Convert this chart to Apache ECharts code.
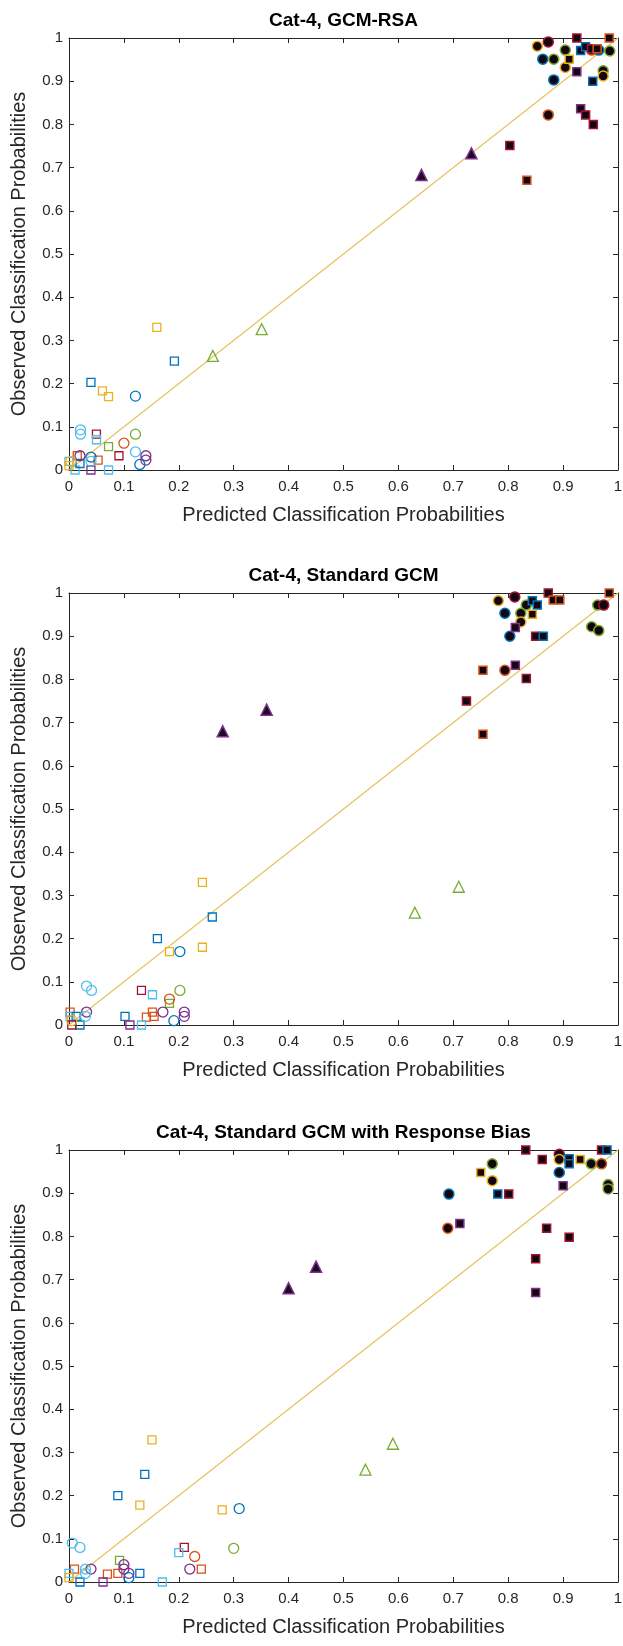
<!DOCTYPE html>
<html>
<head>
<meta charset="utf-8">
<script src="https://cdn.jsdelivr.net/npm/echarts@6/dist/echarts.min.js"></script>
<style>
  html, body { margin: 0; padding: 0; background: #fff; }
  #chart { width: 623px; height: 1646px; }
</style>
</head>
<body>
<div id="chart"></div>
<script>
// points are [predicted, observed, stimulus colour key]
// --- Cat-4, GCM-RSA
const rsaFilledCircles = [
  [0.853, 0.981, 'y'], [0.873, 0.991, 'r'], [0.904, 0.972, 'g'], [0.863, 0.951, 'b'],
  [0.883, 0.951, 'g'], [0.904, 0.932, 'y'], [0.883, 0.903, 'b'], [0.952, 0.972, 'o'],
  [0.965, 0.972, 'b'], [0.985, 0.970, 'g'], [0.973, 0.924, 'g'], [0.973, 0.912, 'y'],
  [0.873, 0.822, 'o']
];
const rsaFilledSquares = [
  [0.925, 1.0, 'r'], [0.984, 1.0, 'o'], [0.911, 0.951, 'y'], [0.925, 0.922, 'p'],
  [0.932, 0.971, 'b'], [0.941, 0.980, 'b'], [0.952, 0.975, 'r'], [0.962, 0.975, 'o'],
  [0.954, 0.900, 'b'], [0.932, 0.836, 'p'], [0.941, 0.822, 'r'], [0.955, 0.800, 'r'],
  [0.803, 0.751, 'r'], [0.834, 0.671, 'o']
];
const rsaFilledTriangles = [[0.642, 0.683, 'p'], [0.733, 0.733, 'p']];
const rsaOpenTriangles = [[0.262, 0.264, 'g'], [0.351, 0.326, 'g']];
const rsaOpenSquares = [
  [0.160, 0.330, 'y'], [0.192, 0.252, 'b'], [0.040, 0.203, 'b'], [0.061, 0.183, 'y'],
  [0.072, 0.170, 'y'], [0.050, 0.083, 'r'], [0.050, 0.070, 'c'], [0.072, 0.054, 'g'],
  [0.091, 0.033, 'r'], [0.015, 0.033, 'o'], [0.053, 0.023, 'o'], [0.000, 0.020, 'c'],
  [0.011, 0.000, 'c'], [0.072, 0.000, 'c'], [0.040, 0.000, 'p'], [0.000, 0.010, 'y'],
  [0.020, 0.015, 'b']
];
const rsaOpenCircles = [
  [0.121, 0.171, 'b'], [0.021, 0.093, 'c'], [0.021, 0.083, 'c'], [0.100, 0.062, 'o'],
  [0.121, 0.083, 'g'], [0.121, 0.042, 'c'], [0.140, 0.033, 'p'], [0.140, 0.023, 'p'],
  [0.129, 0.013, 'b'], [0.020, 0.033, 'p'], [0.040, 0.030, 'b'], [0.040, 0.020, 'c'],
  [0.003, 0.020, 'y']
];

// --- Cat-4, Standard GCM
const stdFilledCircles = [
  [0.782, 0.982, 'y'], [0.812, 0.991, 'r'], [0.794, 0.953, 'b'], [0.833, 0.972, 'g'],
  [0.823, 0.953, 'g'], [0.823, 0.933, 'y'], [0.803, 0.900, 'b'], [0.963, 0.972, 'g'],
  [0.974, 0.972, 'r'], [0.952, 0.922, 'g'], [0.965, 0.913, 'g'], [0.794, 0.821, 'o']
];
const stdFilledSquares = [
  [0.873, 1.0, 'r'], [0.882, 0.984, 'o'], [0.894, 0.984, 'o'], [0.984, 1.0, 'o'],
  [0.844, 0.982, 'b'], [0.853, 0.972, 'b'], [0.844, 0.951, 'y'], [0.813, 0.920, 'p'],
  [0.850, 0.900, 'r'], [0.864, 0.900, 'b'], [0.754, 0.821, 'o'], [0.813, 0.833, 'p'],
  [0.833, 0.802, 'r'], [0.724, 0.750, 'r'], [0.754, 0.673, 'o']
];
const stdFilledTriangles = [[0.280, 0.680, 'p'], [0.360, 0.730, 'p']];
const stdOpenTriangles = [[0.630, 0.260, 'g'], [0.710, 0.320, 'g']];
const stdOpenSquares = [
  [0.243, 0.330, 'y'], [0.261, 0.250, 'b'], [0.243, 0.180, 'y'], [0.161, 0.200, 'b'],
  [0.183, 0.170, 'y'], [0.132, 0.080, 'r'], [0.152, 0.070, 'c'], [0.183, 0.050, 'g'],
  [0.141, 0.018, 'o'], [0.152, 0.030, 'o'], [0.155, 0.020, 'o'], [0.102, 0.020, 'b'],
  [0.111, 0.000, 'p'], [0.132, 0.000, 'c'], [0.002, 0.030, 'o'], [0.002, 0.020, 'c'],
  [0.013, 0.020, 'b'], [0.020, 0.000, 'b'], [0.005, 0.000, 'r']
];
const stdOpenCircles = [
  [0.202, 0.170, 'b'], [0.032, 0.090, 'c'], [0.041, 0.080, 'c'], [0.202, 0.080, 'g'],
  [0.183, 0.060, 'o'], [0.210, 0.030, 'p'], [0.210, 0.020, 'p'], [0.171, 0.030, 'p'],
  [0.191, 0.010, 'b'], [0.032, 0.030, 'p'], [0.030, 0.020, 'c'], [0.005, 0.010, 'y']
];

// --- Cat-4, Standard GCM with Response Bias
const biasFilledCircles = [
  [0.771, 0.968, 'g'], [0.771, 0.929, 'y'], [0.692, 0.898, 'b'], [0.690, 0.819, 'o'],
  [0.893, 0.990, 'r'], [0.893, 0.978, 'y'], [0.893, 0.948, 'b'], [0.951, 0.968, 'g'],
  [0.970, 0.968, 'o'], [0.982, 0.920, 'g'], [0.982, 0.910, 'g']
];
const biasFilledSquares = [
  [0.832, 1.0, 'r'], [0.750, 0.948, 'y'], [0.781, 0.898, 'b'], [0.801, 0.898, 'r'],
  [0.712, 0.830, 'p'], [0.862, 0.978, 'r'], [0.911, 0.980, 'b'], [0.911, 0.968, 'b'],
  [0.931, 0.978, 'y'], [0.970, 1.0, 'r'], [0.980, 1.0, 'b'], [0.900, 0.917, 'p'],
  [0.870, 0.819, 'r'], [0.911, 0.798, 'r'], [0.850, 0.748, 'r'], [0.850, 0.670, 'p']
];
const biasFilledTriangles = [[0.400, 0.680, 'p'], [0.450, 0.730, 'p']];
const biasOpenTriangles = [[0.540, 0.260, 'g'], [0.590, 0.320, 'g']];
const biasOpenSquares = [
  [0.151, 0.329, 'y'], [0.138, 0.249, 'b'], [0.089, 0.200, 'b'], [0.129, 0.178, 'y'],
  [0.279, 0.167, 'y'], [0.210, 0.080, 'r'], [0.200, 0.068, 'c'], [0.241, 0.030, 'o'],
  [0.092, 0.050, 'g'], [0.070, 0.018, 'o'], [0.089, 0.020, 'o'], [0.129, 0.020, 'b'],
  [0.010, 0.030, 'o'], [0.170, 0.000, 'c'], [0.062, 0.000, 'p'], [0.020, 0.000, 'b'],
  [0.000, 0.020, 'c'], [0.000, 0.010, 'y']
];
const biasOpenCircles = [
  [0.310, 0.170, 'b'], [0.300, 0.078, 'g'], [0.006, 0.090, 'c'], [0.020, 0.080, 'c'],
  [0.229, 0.059, 'o'], [0.220, 0.030, 'p'], [0.100, 0.040, 'p'], [0.100, 0.030, 'p'],
  [0.109, 0.020, 'p'], [0.109, 0.010, 'b'], [0.040, 0.030, 'p'], [0.030, 0.030, 'c'],
  [0.030, 0.020, 'c']
];

const titles = ['Cat-4, GCM-RSA', 'Cat-4, Standard GCM', 'Cat-4, Standard GCM with Response Bias'];
const xName = 'Predicted Classification Probabilities';
const yName = 'Observed Classification Probabilities';

// MATLAB default line colours
const colours = {
  b: '#0072BD', o: '#D95319', y: '#EDB120', p: '#7E2F8E',
  g: '#77AC30', c: '#4DBEEE', r: '#A2142F'
};

const panels = [
  { fc: rsaFilledCircles, fs: rsaFilledSquares, ft: rsaFilledTriangles, ot: rsaOpenTriangles, os: rsaOpenSquares, oc: rsaOpenCircles },
  { fc: stdFilledCircles, fs: stdFilledSquares, ft: stdFilledTriangles, ot: stdOpenTriangles, os: stdOpenSquares, oc: stdOpenCircles },
  { fc: biasFilledCircles, fs: biasFilledSquares, ft: biasFilledTriangles, ot: biasOpenTriangles, os: biasOpenSquares, oc: biasOpenCircles }
];

const markers = {
  os: { symbol: 'rect', size: 8, filled: false },
  oc: { symbol: 'circle', size: 10, filled: false },
  ot: { symbol: 'triangle', size: 11, filled: false },
  fc: { symbol: 'circle', size: 10, filled: true },
  fs: { symbol: 'rect', size: 8, filled: true },
  ft: { symbol: 'triangle', size: 11, filled: true }
};

const FONT = '"Liberation Sans", Arial, Helvetica, sans-serif';
const INK = '#262626';
const gridTops = [38, 593, 1150];
const gridLeft = 69;
const gridW = 549;
const gridH = 432;

let grid = [], xAxis = [], yAxis = [], title = [], series = [];

panels.forEach(function (panel, i) {
  const top = gridTops[i];
  grid.push({ left: gridLeft, top: top, width: gridW, height: gridH, outerBoundsMode: 'none' });
  title.push({
    text: titles[i],
    left: gridLeft + gridW / 2,
    textAlign: 'center',
    top: top - 27,
    padding: 0,
    textStyle: { fontFamily: FONT, fontSize: 19, fontWeight: 'bold', color: '#000' }
  });
  const base = {
    type: 'value', min: 0, max: 1, interval: 0.1, gridIndex: i,
    splitLine: { show: false },
    axisLine: { onZero: false, lineStyle: { color: INK, width: 1 } },
    axisTick: { inside: true, length: 5, lineStyle: { color: INK } }
  };
  xAxis.push(Object.assign({}, base, {
    position: 'bottom',
    axisLabel: { fontFamily: FONT, fontSize: 15, color: INK, margin: 9 },
    name: xName, nameLocation: 'middle', nameGap: 35,
    nameTextStyle: { fontFamily: FONT, fontSize: 20, color: INK }
  }));
  xAxis.push(Object.assign({}, base, { position: 'top', axisLabel: { show: false } }));
  yAxis.push(Object.assign({}, base, {
    position: 'left',
    axisLabel: { fontFamily: FONT, fontSize: 15, color: INK, margin: 6 },
    name: yName, nameLocation: 'middle', nameGap: 40,
    nameTextStyle: { fontFamily: FONT, fontSize: 20, color: INK }
  }));
  yAxis.push(Object.assign({}, base, { position: 'right', axisLabel: { show: false } }));

  // identity line
  series.push({
    type: 'line', xAxisIndex: i * 2, yAxisIndex: i * 2,
    data: [[0, 0], [1, 1]], showSymbol: false, silent: true, z: 1,
    lineStyle: { color: '#E3C25E', width: 1.2 }
  });

  Object.keys(markers).forEach(function (key) {
    const m = markers[key];
    series.push({
      type: 'scatter', xAxisIndex: i * 2, yAxisIndex: i * 2,
      symbol: m.symbol, symbolSize: m.size, clip: false, z: m.filled ? 4 : 3,
      data: panel[key].map(function (p) {
        return {
          value: [p[0], p[1]],
          itemStyle: m.filled
            ? { color: key === 'ft' ? '#1c0a22' : '#14060e', borderColor: colours[p[2]], borderWidth: 1.5, opacity: 1 }
            : { color: 'rgba(255,255,255,0)', borderColor: colours[p[2]], borderWidth: 1.3, opacity: 1 }
        };
      })
    });
  });
});

const myChart = echarts.init(document.getElementById('chart'), null, { renderer: 'canvas' });
myChart.setOption({
  animation: false,
  backgroundColor: '#fff',
  title: title,
  grid: grid,
  xAxis: xAxis,
  yAxis: yAxis,
  series: series
});
</script>
</body>
</html>
